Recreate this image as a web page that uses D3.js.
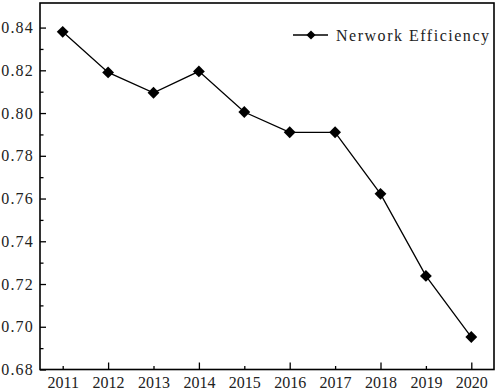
<!DOCTYPE html>
<html>
<head>
<meta charset="utf-8">
<script src="https://cdn.jsdelivr.net/npm/d3@7"></script>
<style>
  html, body { margin: 0; padding: 0; background: #fff; }
  svg { display: block; }
  .tk text { font-family: "Liberation Serif", "DejaVu Serif", serif; font-size: 16px; fill: #222; }
  .lgtext { font-family: "Liberation Serif", "DejaVu Serif", serif; font-size: 16px; fill: #222; }
</style>
</head>
<body>
<svg id="chart" width="498" height="392"></svg>
<script>
const years = [2011, 2012, 2013, 2014, 2015, 2016, 2017, 2018, 2019, 2020];
const efficiency = [0.838, 0.819, 0.8095, 0.8195, 0.8005, 0.791, 0.791, 0.7622, 0.7238, 0.6952];
const yTickValues = [0.68, 0.70, 0.72, 0.74, 0.76, 0.78, 0.80, 0.82, 0.84];
const yMinorTicks = [0.69, 0.71, 0.73, 0.75, 0.77, 0.79, 0.81, 0.83];
const xMajorYears = [2012, 2014, 2016, 2018, 2020];
const seriesName = "Nerwork Efficiency";

(function () {
const svg = d3.select("#chart");
const mLeft = 40, mRight = 494, mTop = 3, mBottom = 369.5;

const x = d3.scalePoint().domain(years).range([mLeft, mRight]).padding(0.5);
const y = d3.scaleLinear().domain([0.68, 0.8515]).range([mBottom, mTop]);

// Y axis major (inward ticks)
const yAxis = d3.axisLeft(y).tickValues(yTickValues).tickFormat(d3.format(".2f"))
  .tickSizeInner(-6).tickSizeOuter(0).tickPadding(6);
const gy = svg.append("g").attr("class", "tk").attr("transform", `translate(${mLeft},0)`).call(yAxis);
gy.attr("font-family", null).attr("font-size", null);
gy.select(".domain").remove();
gy.selectAll(".tick line").attr("stroke", "#000").attr("stroke-width", 1.3);
gy.selectAll(".tick text").attr("fill", null).style("letter-spacing", "1.2px");

// Y axis minor
const yMinor = d3.axisLeft(y).tickValues(yMinorTicks).tickFormat("").tickSizeInner(-3.5).tickSizeOuter(0);
const gym = svg.append("g").attr("transform", `translate(${mLeft},0)`).call(yMinor);
gym.select(".domain").remove();
gym.selectAll(".tick line").attr("stroke", "#000").attr("stroke-width", 1.3);

// X axis
const xAxis = d3.axisBottom(x).tickFormat(d3.format("d")).tickSizeOuter(0).tickSizeInner(0).tickPadding(7);
const gx = svg.append("g").attr("class", "tk").attr("transform", `translate(0,${mBottom})`).call(xAxis);
gx.attr("font-family", null).attr("font-size", null);
gx.select(".domain").remove();
gx.selectAll(".tick line")
  .attr("y2", d => xMajorYears.includes(d) ? -7 : -3.5)
  .attr("stroke", "#000").attr("stroke-width", 1.3);
gx.selectAll(".tick text").attr("fill", null);

// Frame
svg.append("rect").attr("x", mLeft).attr("y", mTop).attr("width", mRight - mLeft).attr("height", mBottom - mTop)
  .attr("fill", "none").attr("stroke", "#000").attr("stroke-width", 1.6);

// Line
const pts = years.map((yr, i) => ({ yr, v: efficiency[i] }));
const line = d3.line().x(d => x(d.yr)).y(d => y(d.v));
svg.append("path").datum(pts).attr("d", line).attr("fill", "none").attr("stroke", "#000").attr("stroke-width", 1.3);

svg.selectAll("path.marker").data(pts).enter().append("path").attr("class", "marker")
  .attr("d", d3.symbol().type(d3.symbolSquare).size(70))
  .attr("transform", d => `translate(${x(d.yr)},${y(d.v)}) rotate(45)`)
  .attr("fill", "#000");

// Legend
const lg = svg.append("g").attr("transform", "translate(293,35)");
lg.append("line").attr("x1", 0).attr("x2", 35).attr("y1", 0).attr("y2", 0).attr("stroke", "#000").attr("stroke-width", 1.3);
lg.append("path").attr("d", d3.symbol().type(d3.symbolSquare).size(42)).attr("transform", "translate(18,0) rotate(45)").attr("fill", "#000");
lg.append("text").attr("class", "lgtext").attr("x", 43).attr("y", 5.5)
  .attr("textLength", 153).attr("lengthAdjust", "spacing").text(seriesName);
})();
</script>
</body>
</html>
